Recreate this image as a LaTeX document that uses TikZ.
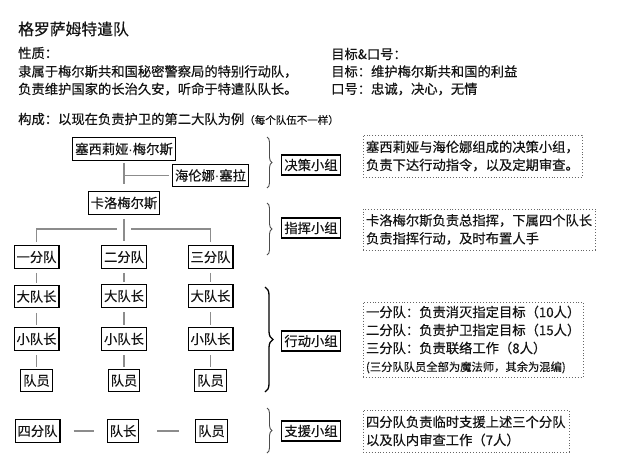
\documentclass[tikz,border=0pt]{standalone}
\usepackage{fontspec}
\setmainfont{Noto Sans CJK SC}[FakeBold=0.35]
\newfontfamily\dotf{Liberation Sans}
\newcommand{\mdt}{{\dotf ·}}
\usetikzlibrary{decorations.pathreplacing}
\begin{document}
\begin{tikzpicture}[x=1pt,y=-1pt,
  every node/.style={font=\fontsize{13.3}{18}\selectfont, text=black!92},
  tbox/.style={draw=black, line width=1.1pt, inner xsep=2.5pt, inner ysep=0pt, minimum height=22.5pt},
  gbox/.style={draw=black, line width=1.1pt, inner xsep=2.5pt, inner ysep=0pt, minimum height=20pt},
  dbox/.style={draw=black!60, dotted, line width=0.9pt, inner xsep=3pt, inner ysep=0pt, align=left},
  conn/.style={draw=black!45, line width=1.1pt},
  brc/.style={draw=black!70, line width=0.9pt, decorate, decoration={brace, amplitude=5pt}},
  brcbig/.style={draw=black, line width=1.3pt, decorate, decoration={brace, amplitude=8pt}},
  hdr/.style={anchor=west, inner sep=0pt}]
\useasboundingbox (0,0) rectangle (620,466);
\fill[white] (0,0) rectangle (620,466);

% header
\node[hdr, font=\fontsize{15.8}{18}\selectfont] (title) at (18,29) {格罗萨姆特遣队};
\node[hdr] (p0) at (18,53) {性质：};
\node[hdr] (p1) at (18,71.5) {隶属于梅尔斯共和国秘密警察局的特别行动队，};
\node[hdr] (p2) at (18,89) {负责维护国家的长治久安，听命于特遣队队长。};
\node[hdr] (q0) at (331,54) {目标\&口号：};
\node[hdr] (q1) at (331,71.5) {目标：维护梅尔斯共和国的利益};
\node[hdr] (q2) at (331,89) {口号：忠诚，决心，无情};
\node[hdr] (k) at (18,119) {构成：以现在负责护卫的第二大队为例{\fontsize{10.5}{12}\selectfont（每个队伍不一样）}};

% tree
\node[tbox] (n1) at (124,149) {塞西莉娅\mdt 梅尔斯};
\node[tbox] (n2) at (210.5,175.5) {海伦娜\mdt 塞拉};
\node[tbox] (n3) at (124,203) {卡洛梅尔斯};
\node[tbox] (d1) at (36.5,257) {一分队};
\node[tbox] (d2) at (124,257) {二分队};
\node[tbox] (d3) at (210.5,257) {三分队};
\node[tbox] (c1) at (36.5,296.5) {大队长};
\node[tbox] (c2) at (124,296) {大队长};
\node[tbox] (c3) at (210.5,296) {大队长};
\node[tbox] (s1) at (36.5,339) {小队长};
\node[tbox] (s2) at (124,339) {小队长};
\node[tbox] (s3) at (210.5,339) {小队长};
\node[tbox] (m1) at (36.5,380.5) {队员};
\node[tbox] (m2) at (124,380.5) {队员};
\node[tbox] (m3) at (210.5,380.5) {队员};
\node[tbox] (f1) at (37.5,431) {四分队};
\node[tbox] (f2) at (123,431) {队长};
\node[tbox] (f3) at (211.5,431) {队员};

\draw[conn] ([yshift=-2pt]n1.south) -- ([yshift=7pt]n3.north);
\draw[conn] (n1.south |- n2.west) -- ([xshift=-3pt]n2.west);
\coordinate (bus) at (124,229);
\draw[conn] ([yshift=3pt]d1.north) |- ([xshift=-7pt]bus);
\draw[conn] ([yshift=3pt]d3.north) |- ([xshift=7pt]bus);
\draw[conn, shorten <=4pt, shorten >=4pt] (n3) -- (d2);
\foreach \i in {1,2,3}{
  \draw[conn, shorten <=4pt, shorten >=2pt] (d\i) -- (c\i);
  \draw[conn, shorten <=4.5pt, shorten >=2pt] (c\i) -- (s\i);
  \draw[conn, shorten <=4.5pt, shorten >=2pt] (s\i) -- (m\i);
}
\draw[conn, shorten <=13pt, shorten >=13pt] (f1) -- (f2);
\draw[conn, shorten <=18pt, shorten >=16pt] (f2) -- (f3);

% braces
\coordinate (b1t) at (267,137); \coordinate (b1b) at (267,188);
\coordinate (b2t) at (267,203); \coordinate (b2b) at (267,255);
\coordinate (b3t) at (265,287); \coordinate (b3b) at (265,392);
\coordinate (b4t) at (267,408); \coordinate (b4b) at (267,453);
\draw[brc] (b1t) -- (b1b);
\draw[brc] (b2t) -- (b2b);
\draw[brcbig] (b3t) -- (b3b);
\draw[brc] (b4t) -- (b4b);

% group labels
\node[gbox] (g1) at (311,165) {决策小组};
\node[gbox] (g2) at (311,228) {指挥小组};
\node[gbox] (g3) at (311,341) {行动小组};
\node[gbox] (g4) at (311,431) {支援小组};

% descriptions
\node[dbox, text width=213pt, minimum height=42pt] (t1) at (472.5,156)
  {塞西莉娅与海伦娜组成的决策小组，\\负责下达行动指令，以及定期审查。};
\node[dbox, text width=226pt, minimum height=41pt] (t2) at (479,229.5)
  {卡洛梅尔斯负责总指挥，下属四个队长\\负责指挥行动，及时布置人手};
\node[dbox, text width=214pt, minimum height=75pt] (t3) at (473,339.5)
  {一分队：负责消灭指定目标（10人）\\二分队：负责护卫指定目标（15人）\\三分队：负责联络工作（8人）\\{\fontsize{11.3}{14}\selectfont (三分队队员全部为魔法师，其余为混编)}};
\node[dbox, text width=200pt, minimum height=42pt] (t4) at (466,431)
  {四分队负责临时支援上述三个分队\\以及队内审查工作（7人）};
\end{tikzpicture}
\end{document}
